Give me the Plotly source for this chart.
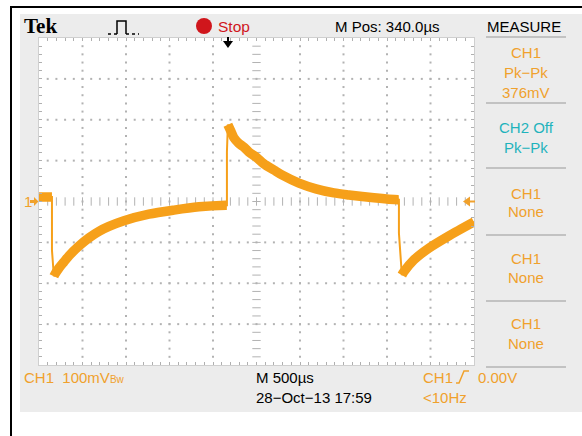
import plotly.graph_objects as go

# ---- CH1 acquisition (time relative to trigger in µs, amplitude in mV) ----
t_us = [-2160, -2023, -2011, -2011, -1989, -1977, -1931, -1874, -1816, -1701,
        -1586, -1471, -1356, -1184, -897, -609, -322, -11, 0, 0,
        11, 46, 80, 138, 195, 253, 345, 425, 540, 632,
        828, 1023, 1230, 1402, 1690, 1966, 1977, 1977, 2011, 2034,
        2149, 2322, 2552, 2840]
v_mv = [11, 11, 11, -119, -183, -178, -163, -148, -133, -109,
        -89, -73, -61, -47, -31, -21, -13, -9, -9, 121,
        188, 172, 156, 142, 133, 121, 107, 92, 77, 65,
        45, 31, 21, 16, 9, 4, 4, -77, -180, -172,
        -143, -114, -84, -50]

# ---- scope settings ----
volts_per_div = 100      # mV / div
time_per_div = 500       # µs / div
h_pos = 340              # µs, centre of screen after trigger
n_hdiv, n_vdiv = 10, 8

x_lo = h_pos - time_per_div * n_hdiv / 2
x_hi = h_pos + time_per_div * n_hdiv / 2
y_lo = -volts_per_div * n_vdiv / 2
y_hi = volts_per_div * n_vdiv / 2

measure_rows = [("CH1", "Pk−Pk", "376mV"), ("CH2 Off", "Pk−Pk", None),
                ("CH1", "None", None), ("CH1", "None", None), ("CH1", "None", None)]

W_FIG, H_FIG = 582, 436
L, T, R, B = 39, 38, 474, 365
PW, PH = R - L, B - T

TRACE = "#F6A01A"
ORANGE = "#F0A12C"
CYAN = "#1FB3BC"
RED = "#D0161C"
GRID = "#B2B2B2"
SCREEN = "#ECECEC"
FONT = "Liberation Sans, Arial, sans-serif"


def px(x):
    return (x - L) / PW


def py(y):
    return (B - y) / PH


def path(points, close=False):
    s = "M" + " L".join(f"{px(a):.5f},{py(b):.5f}" for a, b in points)
    return s + (" Z" if close else "")


fig = go.Figure()

# graticule: dotted division lines
sub_x = time_per_div / 5
sub_y = volts_per_div / 5
dx, dy = [], []
for k in range(1, n_hdiv):
    if k == n_hdiv // 2:
        continue
    xv = x_lo + k * time_per_div
    for j in range(1, n_vdiv * 5):
        dx.append(xv)
        dy.append(y_lo + j * sub_y)
for k in range(1, n_vdiv):
    if k == n_vdiv // 2:
        continue
    yv = y_lo + k * volts_per_div
    for j in range(1, n_hdiv * 5):
        dx.append(x_lo + j * sub_x)
        dy.append(yv)
fig.add_trace(go.Scatter(x=dx, y=dy, mode="markers", hoverinfo="skip",
                         marker=dict(symbol="square", size=2, color=GRID, line=dict(width=0))))

# graticule: centre cross with minor ticks
cx = [x_lo + j * sub_x for j in range(1, n_hdiv * 5)]
fig.add_trace(go.Scatter(x=cx, y=[0] * len(cx), mode="markers", hoverinfo="skip",
                         marker=dict(symbol="line-ns", size=6, line=dict(width=1, color=GRID))))
cy = [y_lo + j * sub_y for j in range(1, n_vdiv * 5)]
fig.add_trace(go.Scatter(x=[h_pos] * len(cy), y=cy, mode="markers", hoverinfo="skip",
                         marker=dict(symbol="line-ew", size=6, line=dict(width=1, color=GRID))))

# waveform: thick noisy band on the slow parts, thin line through the edges
band_x, band_y = [t_us[0]], [v_mv[0]]
for i in range(1, len(t_us)):
    dt = t_us[i] - t_us[i - 1]
    dv = v_mv[i] - v_mv[i - 1]
    if dt == 0 or abs(dv / dt) > 1.0:
        band_x.append(None)
        band_y.append(None)
    band_x.append(t_us[i])
    band_y.append(v_mv[i])
fig.add_trace(go.Scatter(x=band_x, y=band_y, mode="lines", hoverinfo="skip",
                         line=dict(color=TRACE, width=9.5, shape="spline", smoothing=0.8)))
fig.add_trace(go.Scatter(x=t_us, y=v_mv, mode="lines", hoverinfo="skip",
                         line=dict(color=TRACE, width=2)))

shapes = [
    # scope screen and graticule area
    dict(type="rect", xref="paper", yref="paper", x0=px(20), x1=px(582), y0=py(412), y1=py(14),
         fillcolor=SCREEN, line=dict(width=0), layer="below"),
    dict(type="rect", xref="paper", yref="paper", x0=px(L), x1=px(R), y0=py(B), y1=py(T),
         fillcolor="white", line=dict(width=0), layer="below"),
    # outer black frame
    dict(type="line", xref="paper", yref="paper", x0=px(11), x1=px(11), y0=py(6), y1=py(436),
         line=dict(color="black", width=2)),
    dict(type="line", xref="paper", yref="paper", x0=px(10), x1=px(582), y0=py(7), y1=py(7),
         line=dict(color="black", width=2)),
    # run/stop indicator
    dict(type="circle", xref="paper", yref="paper", x0=px(196), x1=px(212), y0=py(34), y1=py(18),
         fillcolor=RED, line=dict(width=0)),
    # acquisition mode pulse icon
    dict(type="path", xref="paper", yref="paper",
         path=path([(117, 34), (117, 21), (126, 21), (126, 34)]),
         line=dict(color="black", width=1.5)),
    dict(type="line", xref="paper", yref="paper", x0=px(108), x1=px(117), y0=py(34), y1=py(34),
         line=dict(color="black", width=1.5, dash="dot")),
    dict(type="line", xref="paper", yref="paper", x0=px(126), x1=px(139), y0=py(34), y1=py(34),
         line=dict(color="black", width=1.5, dash="dot")),
    # trigger position marker
    dict(type="line", xref="paper", yref="paper", x0=px(228), x1=px(228), y0=py(37), y1=py(42),
         line=dict(color="black", width=2)),
    dict(type="path", xref="paper", yref="paper",
         path=path([(223, 41), (233, 41), (228, 48)], close=True),
         fillcolor="black", line=dict(width=0)),
    # CH1 ground marker
    dict(type="path", xref="paper", yref="paper",
         path=path([(30, 200), (34, 200), (34, 197), (38.5, 201.5), (34, 206), (34, 203), (30, 203)], close=True),
         fillcolor=ORANGE, line=dict(width=0)),
    # trigger level marker
    dict(type="path", xref="paper", yref="paper",
         path=path([(463, 201.5), (470, 196.5), (470, 206.5)], close=True),
         fillcolor=ORANGE, line=dict(width=0)),
    dict(type="line", xref="paper", yref="paper", x0=px(469), x1=px(475), y0=py(201.5), y1=py(201.5),
         line=dict(color=ORANGE, width=2)),
    # trigger slope icon
    dict(type="path", xref="paper", yref="paper",
         path=path([(456, 383), (459, 383), (464, 371), (469, 371)]),
         line=dict(color=ORANGE, width=1.5)),
]

# measure panel separators
for sy in [37, 103, 168, 235, 301, 367]:
    shapes.append(dict(type="line", xref="paper", yref="paper", x0=px(486), x1=px(566),
                       y0=py(sy), y1=py(sy), line=dict(color="#B4B4B4", width=1.5)))

ann = []


def text(x, y, s, color="black", size=15, anchor="left", family=FONT):
    ann.append(dict(x=px(x), y=py(y), xref="paper", yref="paper", text=s, showarrow=False,
                    xanchor=anchor, yanchor="middle", align="center",
                    font=dict(color=color, size=size, family=family)))


text(22, 26, "<b>Tek</b>", size=21, family="Liberation Serif, Times New Roman, serif")
text(216, 26, "Stop", color=RED, size=15.5)
text(333, 26, f"M Pos: {h_pos:.1f}µs", size=15)
text(524, 26, "MEASURE", size=15, anchor="center")

row_y = [(52, 72, 92), (127, 147, None), (193, 212, None), (258, 277, None), (323, 343, None)]
for (a, b, c), (ya, yb, yc) in zip(measure_rows, row_y):
    col = CYAN if "Off" in a else ORANGE
    text(526, ya, a, color=col, anchor="center")
    text(526, yb, b, color=col, anchor="center")
    if c:
        text(526, yc, c, color=col, anchor="center")

text(22, 377, f"CH1  {volts_per_div}mV<span style='font-size:10px'>Bw</span>", color=ORANGE)
text(254, 377, f"M {time_per_div}µs")
text(254, 397, "28−Oct−13 17:59")
text(421, 377, "CH1", color=ORANGE)
text(476, 377, "0.00V", color=ORANGE)
text(421, 397, "&lt;10Hz", color=ORANGE)
text(22, 201, "1", color=ORANGE)

axis_common = dict(showgrid=False, zeroline=False, showticklabels=False,
                   showline=True, linecolor="#CFCFCF", linewidth=1, mirror="allticks",
                   ticks="inside", ticklen=3, tickwidth=1, tickcolor="#B0B0B0", fixedrange=True)

fig.update_layout(
    width=W_FIG, height=H_FIG,
    margin=dict(l=L, r=W_FIG - R, t=T, b=H_FIG - B, pad=0),
    paper_bgcolor="white", plot_bgcolor="white",
    showlegend=False,
    xaxis=dict(range=[x_lo, x_hi], tick0=x_lo, dtick=sub_x, **axis_common),
    yaxis=dict(range=[y_lo, y_hi], tick0=y_lo, dtick=sub_y, **axis_common),
    shapes=shapes, annotations=ann,
)

fig.write_html("out.html")
